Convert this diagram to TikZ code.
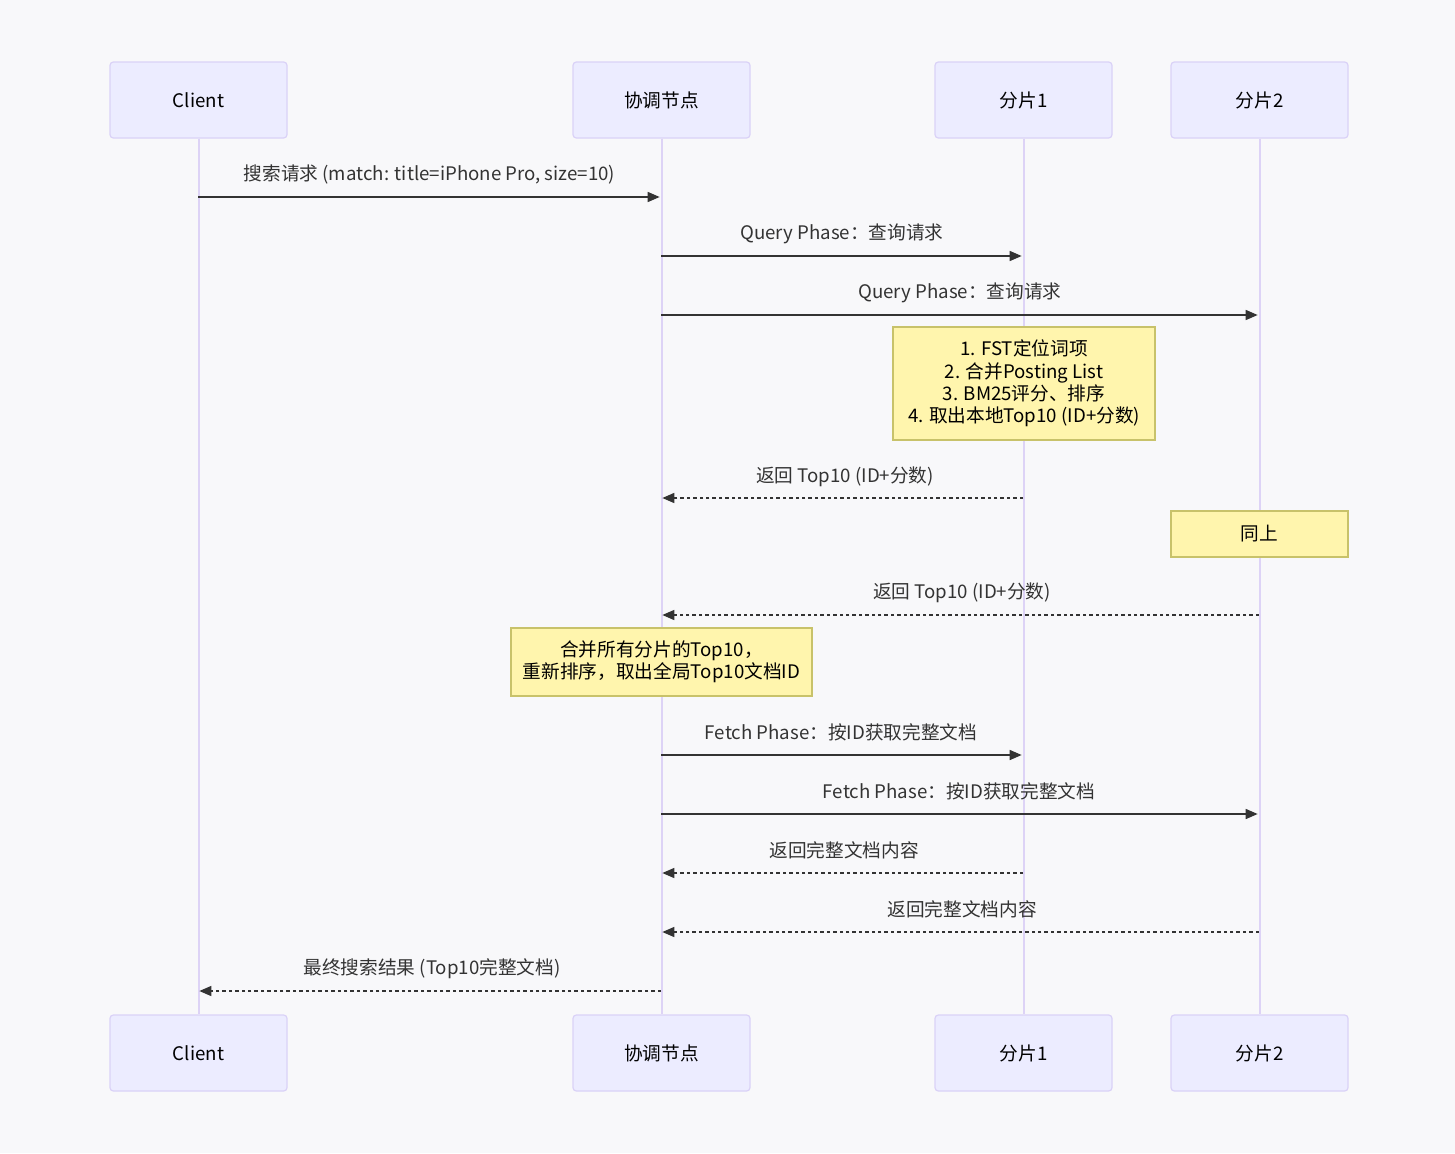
\documentclass[tikz,border=0pt]{standalone}
\usepackage{fontspec}
\setmainfont{Noto Sans CJK SC}
\usetikzlibrary{arrows.meta}
\definecolor{bg}{HTML}{F8F8FA}
\definecolor{actorfill}{HTML}{ECECFF}
\definecolor{actorborder}{HTML}{DAD2F7}
\definecolor{lifecol}{HTML}{DDD3F6}
\definecolor{notefill}{HTML}{FFF5AD}
\definecolor{noteborder}{HTML}{C8C26A}
\definecolor{msgcol}{HTML}{333333}
\begin{document}
\begin{tikzpicture}[x=0.75pt,y=-0.75pt,
  font=\fontsize{14pt}{16.8pt}\selectfont,
  actor/.style={draw=actorborder, fill=actorfill, line width=0.9pt, rounded corners=2.5pt,
    minimum width=132.75pt, minimum height=57pt, inner sep=0pt, text=black},
  life/.style={draw=lifecol, line width=1.5pt},
  msg/.style={draw=msgcol, line width=1.1pt, -{Triangle[length=9pt,width=7.5pt]}, shorten >=1pt},
  reply/.style={msg, dash pattern=on 2.6pt off 2.2pt},
  lbl/.style={text=msgcol, inner sep=0pt, yshift=-1.2pt},
  note/.style={draw=noteborder, fill=notefill, line width=0.9pt, align=center, inner sep=0pt, text=black}]
\fill[bg] (0,0) rectangle (1455,1153);
\useasboundingbox (0,0) rectangle (1455,1153);
\node[actor] (cT) at (198.5,100) {Client};
\node[actor] (kT) at (661.5,100) {协调节点};
\node[actor] (s1T) at (1023.5,100) {分片1};
\node[actor] (s2T) at (1259.5,100) {分片2};
\node[actor] (cB) at (198.5,1053) {Client};
\node[actor] (kB) at (661.5,1053) {协调节点};
\node[actor] (s1B) at (1023.5,1053) {分片1};
\node[actor] (s2B) at (1259.5,1053) {分片2};
\draw[life] (cT.south) -- (cB.north);
\draw[life] (kT.south) -- (kB.north);
\draw[life] (s1T.south) -- (s1B.north);
\draw[life] (s2T.south) -- (s2B.north);
% message coordinates
\coordinate (c1) at (198,197); \coordinate (k1) at (661,197);
\coordinate (k2) at (661,256); \coordinate (a2) at (1023,256);
\coordinate (k3) at (661,315); \coordinate (b3) at (1259,315);
\coordinate (a4) at (1023,498); \coordinate (k4) at (661,498);
\coordinate (b5) at (1259,615); \coordinate (k5) at (661,615);
\coordinate (k6) at (661,755); \coordinate (a6) at (1023,755);
\coordinate (k7) at (661,814); \coordinate (b7) at (1259,814);
\coordinate (a8) at (1023,873); \coordinate (k8) at (661,873);
\coordinate (b9) at (1259,932); \coordinate (k9) at (661,932);
\coordinate (k10) at (661,991); \coordinate (c10) at (198,991);
% messages
\draw[msg] (c1) -- (k1);
\node[lbl] (l1) at (429.5,173) {搜索请求 (match: title=iPhone Pro, size=10)};
\draw[msg] (k2) -- (a2);
\node[lbl] (l2) at (842,232) {Query Phase：查询请求};
\draw[msg] (k3) -- (b3);
\node[lbl] (l3) at (960,291) {Query Phase：查询请求};
\node[note, minimum width=196.5pt, minimum height=84.75pt] (n1) at (1024,383.5)
  {\rule{0pt}{4pt}1. FST定位词项\\2. 合并Posting List\\3. BM25评分、排序\\4. 取出本地Top10 (ID+分数)};
\draw[reply] (a4) -- (k4);
\node[lbl] (l4) at (845,475) {返回 Top10 (ID+分数)};
\node[note, minimum width=132.75pt, minimum height=34.5pt] (n2) at (1259.5,534) {同上};
\draw[reply] (b5) -- (k5);
\node[lbl] (l5) at (962,591) {返回 Top10 (ID+分数)};
\node[note, minimum width=225.75pt, minimum height=51pt] (n3) at (661.5,662)
  {合并所有分片的Top10，\\重新排序，取出全局Top10文档ID};
\draw[msg] (k6) -- (a6);
\node[lbl] (l6) at (841,731) {Fetch Phase：按ID获取完整文档};
\draw[msg] (k7) -- (b7);
\node[lbl] (l7) at (959,790) {Fetch Phase：按ID获取完整文档};
\draw[reply] (a8) -- (k8);
\node[lbl] (l8) at (844,849) {返回完整文档内容};
\draw[reply] (b9) -- (k9);
\node[lbl] (l9) at (962,908) {返回完整文档内容};
\draw[reply] (k10) -- (c10);
\node[lbl] (l10) at (432,967) {最终搜索结果 (Top10完整文档)};
\end{tikzpicture}
\end{document}
